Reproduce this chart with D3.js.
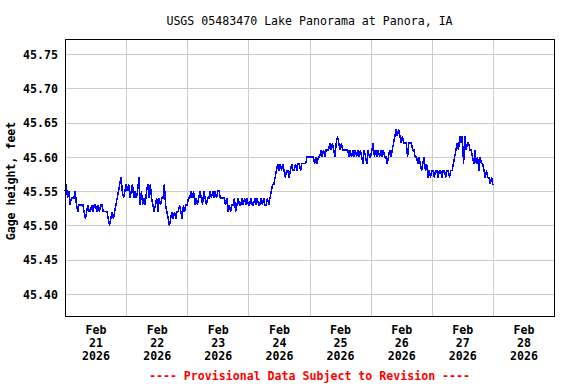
<!DOCTYPE html>
<html>
<head>
<meta charset="utf-8">
<script src="https://cdn.jsdelivr.net/npm/d3@7"></script>
<style>
  body { margin: 0; background: #ffffff; }
  svg text { font-family: "DejaVu Sans Mono", "Liberation Mono", monospace; font-size: 11.6px; }
</style>
</head>
<body>
<svg id="chart" width="576" height="384"></svg>
<script>
// ---------- DATA ----------
const chartTitle = "USGS 05483470 Lake Panorama at Panora, IA";
const yAxisLabel = "Gage height, feet";
const footnote = "---- Provisional Data Subject to Revision ----";
const yTicks = [45.40, 45.45, 45.50, 45.55, 45.60, 45.65, 45.70, 45.75];
const dayMonth = ["Feb", "Feb", "Feb", "Feb", "Feb", "Feb", "Feb", "Feb"];
const dayNumber = ["21", "22", "23", "24", "25", "26", "27", "28"];
const dayYear = ["2026", "2026", "2026", "2026", "2026", "2026", "2026", "2026"];
const sampleMinutes = 30; // readings every 30 minutes starting at midnight of each day

// gage height, feet
const feb21 = [45.55,45.56,45.54,45.55,45.53,45.54,45.54,45.54,45.55,45.53,
               45.52,45.53,45.53,45.53,45.53,45.52,45.51,45.52,45.53,45.52,
               45.52,45.53,45.52,45.53,45.53,45.52,45.53,45.52,45.53,45.53,
               45.52,45.52,45.52,45.52,45.51,45.50,45.51,45.52,45.51,45.52,
               45.53,45.54,45.55,45.56,45.57,45.55,45.54,45.55];
const feb22 = [45.56,45.55,45.56,45.54,45.55,45.56,45.54,45.55,45.54,45.55,
               45.57,45.53,45.55,45.53,45.54,45.53,45.55,45.56,45.54,45.56,
               45.54,45.53,45.52,45.53,45.54,45.52,45.54,45.53,45.54,45.54,
               45.56,45.53,45.52,45.51,45.50,45.51,45.52,45.51,45.52,45.51,
               45.52,45.52,45.53,45.52,45.51,45.53,45.52,45.53];
const feb23 = [45.53,45.54,45.54,45.55,45.54,45.55,45.53,45.54,45.53,45.54,
               45.55,45.54,45.53,45.55,45.54,45.53,45.54,45.54,45.55,45.54,
               45.55,45.54,45.55,45.54,45.55,45.55,45.54,45.54,45.54,45.54,
               45.53,45.54,45.52,45.53,45.52,45.53,45.53,45.54,45.52,45.53,
               45.54,45.53,45.53,45.54,45.53,45.54,45.53,45.54];
const feb24 = [45.53,45.53,45.54,45.53,45.53,45.54,45.53,45.54,45.53,45.53,
               45.54,45.53,45.54,45.53,45.53,45.54,45.53,45.54,45.55,45.56,
               45.56,45.57,45.58,45.59,45.58,45.59,45.58,45.59,45.58,45.57,
               45.58,45.58,45.57,45.58,45.59,45.58,45.58,45.59,45.58,45.59,
               45.59,45.58,45.59,45.59,45.59,45.59,45.60,45.60];
const feb25 = [45.60,45.60,45.60,45.60,45.59,45.60,45.59,45.60,45.60,45.61,
               45.60,45.61,45.60,45.61,45.61,45.61,45.62,45.61,45.62,45.61,
               45.60,45.62,45.63,45.62,45.61,45.62,45.61,45.61,45.61,45.61,
               45.61,45.60,45.61,45.60,45.61,45.60,45.61,45.60,45.61,45.60,
               45.61,45.60,45.59,45.61,45.60,45.59,45.61,45.60];
const feb26 = [45.60,45.61,45.62,45.60,45.61,45.60,45.61,45.60,45.61,45.60,
               45.61,45.60,45.60,45.59,45.60,45.61,45.60,45.61,45.62,45.63,
               45.64,45.63,45.64,45.63,45.62,45.63,45.62,45.62,45.62,45.60,
               45.62,45.62,45.62,45.61,45.61,45.60,45.60,45.59,45.60,45.59,
               45.58,45.59,45.60,45.58,45.59,45.57,45.58,45.57];
const feb27 = [45.58,45.58,45.57,45.58,45.58,45.57,45.58,45.58,45.57,45.58,
               45.58,45.57,45.58,45.58,45.57,45.58,45.58,45.59,45.60,45.61,
               45.62,45.61,45.63,45.62,45.63,45.59,45.63,45.61,45.62,45.62,
               45.61,45.61,45.60,45.59,45.61,45.59,45.60,45.58,45.60,45.59,
               45.59,45.58,45.57,45.58,45.57,45.57,45.56,45.57];
const feb28 = [45.56,45.56];
const dailySeries = [feb21, feb22, feb23, feb24, feb25, feb26, feb27, feb28];

// ---------- BUILD ----------
const DAY = 86400000;
const start = Date.UTC(2026, 1, 21);
const end = Date.UTC(2026, 2, 1);
const points = [];
dailySeries.forEach((vals, d) => {
  vals.forEach((v, i) => points.push({ t: new Date(start + d * DAY + i * sampleMinutes * 60000), v }));
});
const dayStarts = d3.range(1, 8).map(d => new Date(start + d * DAY));
const dayNoons = d3.range(0, 8).map(d => new Date(start + d * DAY + DAY / 2));

const svg = d3.select("#chart");
const L = 65, R = 554, T = 39, B = 316;

const x = d3.scaleUtc().domain([new Date(start), new Date(end)]).range([L, R]);
const y = d3.scaleLinear().domain([45.40, 45.75]).range([294, 54]);

svg.append("rect").attr("width", 576).attr("height", 384).attr("fill", "#ffffff");

// grid
const grid = svg.append("g").attr("shape-rendering", "crispEdges").attr("stroke", "#cccccc").attr("stroke-width", 1);
grid.selectAll("line.v").data(dayStarts).join("line")
  .attr("x1", d => Math.round(x(d)) + 0.5).attr("x2", d => Math.round(x(d)) + 0.5)
  .attr("y1", T).attr("y2", B);
grid.selectAll("line.h").data(yTicks).join("line")
  .attr("y1", d => Math.round(y(d)) + 0.5).attr("y2", d => Math.round(y(d)) + 0.5)
  .attr("x1", L).attr("x2", R);

// data line
const line = d3.line().x(d => x(d.t)).y(d => y(d.v));
svg.append("path").datum(points)
  .attr("d", line)
  .attr("fill", "none")
  .attr("stroke", "#0000ff")
  .attr("stroke-width", 1.5)
  .attr("stroke-linejoin", "miter")
  .attr("shape-rendering", "crispEdges");

// frame
svg.append("rect").attr("x", L + 0.5).attr("y", T + 0.5).attr("width", R - L).attr("height", B - T)
  .attr("fill", "none").attr("stroke", "#000000").attr("stroke-width", 1).attr("shape-rendering", "crispEdges");

// y axis labels
const yAxis = d3.axisLeft(y).tickValues(yTicks).tickSize(0).tickPadding(7).tickFormat(d3.format(".2f"));
const gy = svg.append("g").attr("transform", `translate(${L},0)`).call(yAxis);
gy.select(".domain").remove();
gy.selectAll("text").attr("font-family", '"DejaVu Sans Mono", monospace').attr("font-size", "11.6px")
  .attr("font-weight", "bold").attr("fill", "#000").attr("dy", "0.36em");

// x axis labels (three lines)
const xAxis = d3.axisBottom(x).tickValues(dayNoons).tickSize(0).tickFormat("");
const gx = svg.append("g").attr("transform", `translate(0,${B})`).call(xAxis);
gx.select(".domain").remove();
gx.selectAll(".tick text").each(function (d, i) {
  const t = d3.select(this).attr("y", 0).attr("dy", null)
    .attr("font-family", '"DejaVu Sans Mono", monospace').attr("font-size", "11.6px")
    .attr("font-weight", "bold").attr("fill", "#000");
  t.text(null);
  [dayMonth[i], dayNumber[i], dayYear[i]].forEach((s, k) => {
    t.append("tspan").attr("x", 0).attr("y", 18.3 + k * 13).text(s);
  });
});

// title
svg.append("text").attr("x", (L + R) / 2).attr("y", 24.5).attr("text-anchor", "middle")
  .attr("fill", "#000").text(chartTitle);

// y axis title
svg.append("text").attr("transform", `translate(15,181) rotate(-90)`).attr("text-anchor", "middle")
  .attr("font-weight", "bold").attr("fill", "#000").text(yAxisLabel);

// footnote
svg.append("text").attr("x", (L + R) / 2).attr("y", 379.5).attr("text-anchor", "middle")
  .attr("font-weight", "bold").attr("fill", "#ff0000").text(footnote);
</script>
</body>
</html>
